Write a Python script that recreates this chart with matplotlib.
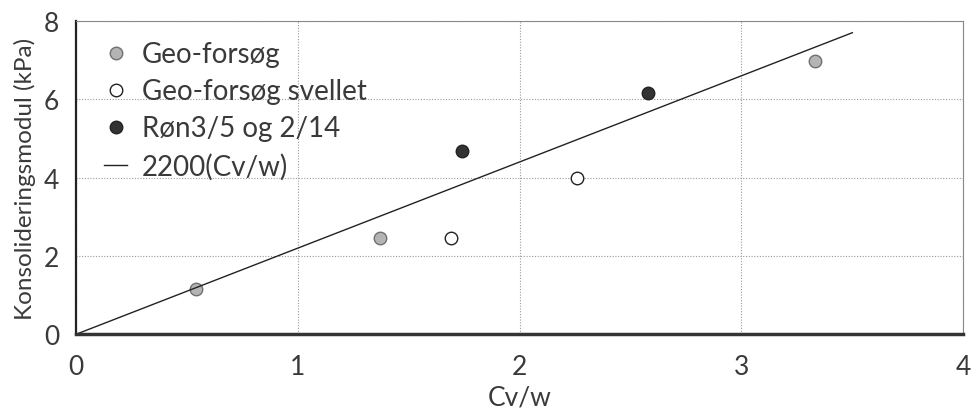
import matplotlib
matplotlib.use('Agg')
import matplotlib.pyplot as plt
import numpy as np

plt.rcParams['font.family'] = ['Lato', 'DejaVu Sans']

# Måledata
geo_x = [0.54, 1.37, 3.33]
geo_y = [1.17, 2.46, 6.97]
svellet_x = [1.69, 2.26]
svellet_y = [2.46, 4.00]
ron_x = [1.74, 2.58]
ron_y = [4.67, 6.15]

# Linje 2200(Cv/w)
line_x = [0.0, 3.5]
line_slope = 2.2

fig = plt.figure(figsize=(9.73, 4.14), dpi=100)
ax = fig.add_axes([0.078, 0.19, 0.912, 0.757])

ax.plot(geo_x, geo_y, 'o', ms=9, mfc='#b4b4b4', mec='#707070', mew=1.0, label='Geo-forsøg')
ax.plot(svellet_x, svellet_y, 'o', ms=9, mfc='white', mec='#222222', mew=1.0, label='Geo-forsøg svellet')
ax.plot(ron_x, ron_y, 'o', ms=9, mfc='#333333', mec='#222222', mew=1.0, label='Røn3/5 og 2/14')
lx = np.array(line_x)
ax.plot(lx, line_slope * lx, '-', color='#222222', lw=1.0, label='2200(Cv/w)')

ax.set_xlim(0, 4)
ax.set_ylim(0, 8)
ax.set_xticks([0, 1, 2, 3, 4])
ax.set_yticks([0, 2, 4, 6, 8])
ax.tick_params(length=0, labelsize=19, colors='#3a3a3a')
ax.tick_params(axis='x', pad=14)
ax.tick_params(axis='y', pad=12)
ax.grid(True, ls=(0, (1, 1.5)), color='#999999', lw=0.8)

ax.set_xlabel('Cv/w', fontsize=19, color='#3a3a3a', labelpad=4)
ax.set_ylabel('Konsolideringsmodul (kPa)', fontsize=17.5, color='#3a3a3a', labelpad=6)

for s in ['top', 'right']:
    ax.spines[s].set_color('#888888')
    ax.spines[s].set_linewidth(0.8)
ax.spines['left'].set_linewidth(1.6)
ax.spines['bottom'].set_linewidth(2.5)
ax.spines['left'].set_color('#222222')
ax.spines['bottom'].set_color('#333333')

ax.legend(loc='upper left', bbox_to_anchor=(0.015, 0.984), frameon=False,
          fontsize=20, handlelength=0.8, handletextpad=0.55, labelspacing=0.4,
          borderaxespad=0.2, borderpad=0.35, labelcolor='#3a3a3a')

plt.savefig('out.png', dpi=100)
